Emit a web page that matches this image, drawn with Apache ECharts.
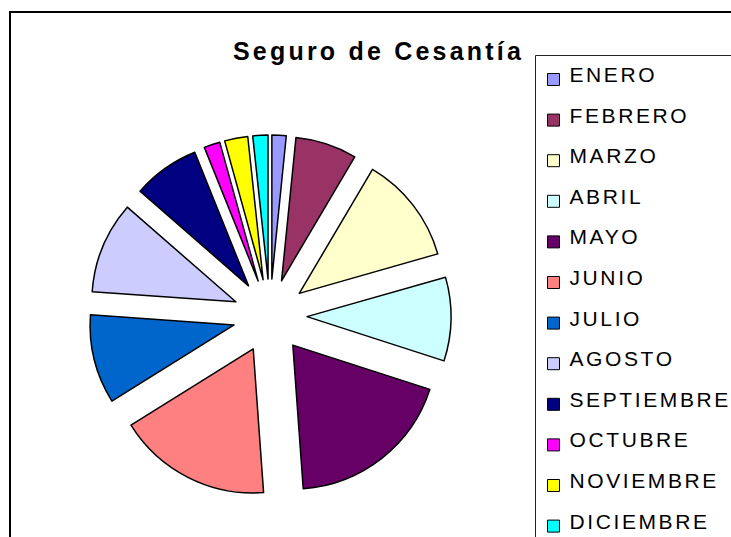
<!DOCTYPE html>
<html>
<head>
<meta charset="utf-8">
<script src="https://cdn.jsdelivr.net/npm/echarts@6/dist/echarts.min.js"></script>
<style>
  html, body { margin: 0; padding: 0; background: #fff; }
  #chart { width: 731px; height: 537px; }
  #chart text { letter-spacing: 2.6px; }
  #chart text[style*="bold"] { letter-spacing: 3.2px; }
</style>
</head>
<body>
<div id="chart"></div>
<script>
const titleText = 'Seguro de Cesantía';
const months = ['ENERO','FEBRERO','MARZO','ABRIL','MAYO','JUNIO','JULIO','AGOSTO','SEPTIEMBRE','OCTUBRE','NOVIEMBRE','DICIEMBRE'];
const values = [1.6, 6.9, 12.1, 9.4, 18.9, 17.3, 10.0, 10.3, 7.5, 1.8, 2.6, 1.7];
const colors = ['#9999FF','#993366','#FFFFCC','#CCFFFF','#660066','#FF8080','#0066CC','#CCCCFF','#000080','#FF00FF','#FFFF00','#00FFFF'];

const chart = echarts.init(document.getElementById('chart'), null, { renderer: 'svg' });
const pieData = months.map((m, i) => ({ name: m, value: values[i], selected: true }));

chart.setOption({
  animation: false,
  backgroundColor: '#ffffff',
  color: colors,
  title: {
    text: titleText,
    left: 378.5,
    top: 37.8,
    textAlign: 'center',
    padding: 0,
    textStyle: { fontFamily: 'Liberation Sans, Arial', fontWeight: 'bold', fontSize: 25, lineHeight: 26, color: '#000' }
  },
  graphic: [
    { type: 'rect', silent: true, z: -1, shape: { x: 10, y: 12, width: 900, height: 700 }, style: { fill: 'none', stroke: '#000', lineWidth: 2 } },
    { type: 'rect', silent: true, z: -1, shape: { x: 535.5, y: 55.5, width: 400, height: 700 }, style: { fill: 'none', stroke: '#222', lineWidth: 1 } }
  ],
  legend: {
    orient: 'vertical',
    left: 547,
    top: 63,
    height: 1000,
    padding: 0,
    itemWidth: 12,
    itemHeight: 22,
    itemGap: 17.6,
    icon: 'path://M0,0 L0,0 M0,10 L12,10 L12,22 L0,22 Z',
    selectedMode: false,
    itemStyle: { borderColor: '#000', borderWidth: 1 },
    textStyle: { fontFamily: 'Liberation Sans, Arial', fontSize: 21, lineHeight: 22, color: '#000', padding: [0, 0, 0, 5] },
    data: months
  },
  series: [{
    type: 'pie',
    center: [270, 316],
    radius: 144,
    startAngle: 90,
    clockwise: true,
    selectedMode: 'multiple',
    selectedOffset: 37,
    label: { show: false },
    labelLine: { show: false },
    emphasis: { disabled: true },
    itemStyle: { borderColor: '#000', borderWidth: 1.5 },
    select: { itemStyle: { borderColor: '#000', borderWidth: 1.5 } },
    data: pieData
  }]
});
</script>
</body>
</html>
